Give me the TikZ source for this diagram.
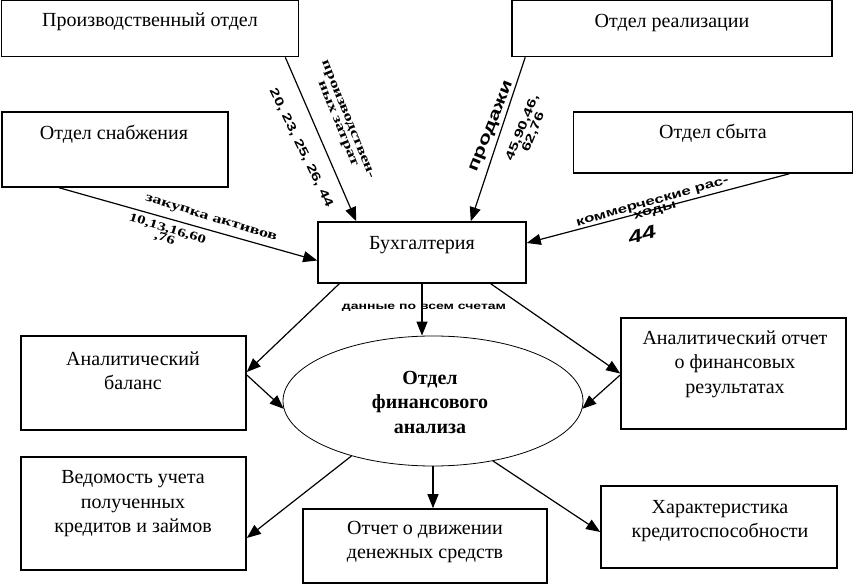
\documentclass[tikz,border=0pt]{standalone}
\usepackage{fontspec}
\setmainfont{Liberation Serif}
\newfontfamily\lblfont[FakeStretch=1.4]{Liberation Sans}
\newfontfamily\lblserif[FakeStretch=1.4]{Liberation Serif}
\usetikzlibrary{arrows.meta,shapes.geometric,calc}

\begin{document}
\begin{tikzpicture}[x=1pt,y=1pt,yscale=-1,xscale=1,
    box/.style={draw,line width=1.6pt,inner sep=0pt},
    txt/.style={inner sep=0.75pt,align=center,font=\fontsize{20}{24.5}\selectfont},
    lbl/.style={inner sep=0.75pt,align=center,font=\lblfont\bfseries\fontsize{12}{12}\selectfont},
    slbl/.style={inner sep=0.75pt,align=center,font=\lblserif\bfseries\fontsize{13}{11}\selectfont},
    arr/.style={line width=1.2pt,-{Triangle[length=14pt,width=11pt]}}]
    \useasboundingbox (0,0) rectangle (855,585);
    %Shape: Rectangle
    \node[box,minimum width=297,minimum height=56] (prod) at (150,28.5) {};
    %Shape: Rectangle
    \node[box,minimum width=226,minimum height=75] (snab) at (115,149.5) {};
    %Shape: Rectangle
    \node[box,minimum width=320,minimum height=56] (real) at (672,28.5) {};
    %Shape: Rectangle
    \node[box,minimum width=279,minimum height=61] (sbyt) at (713,142.5) {};
    %Shape: Rectangle
    \node[box,minimum width=208,minimum height=61] (buh) at (422,252.5) {};
    %Shape: Rectangle
    \node[box,minimum width=225,minimum height=94] (bal) at (133.5,383) {};
    %Shape: Rectangle
    \node[box,minimum width=225,minimum height=113] (ved) at (133.5,513.5) {};
    %Shape: Rectangle
    \node[box,minimum width=244,minimum height=74] (dvizh) at (425,546) {};
    %Shape: Rectangle
    \node[box,minimum width=225,minimum height=111] (anotch) at (733.5,373.5) {};
    %Shape: Rectangle
    \node[box,minimum width=236,minimum height=82] (char) at (719,527) {};
    %Shape: Ellipse
    \node[draw,ellipse,line width=0.8pt,minimum width=300,minimum height=130] (fin) at (433,401) {};

    %Straight Lines
    \draw[arr] ($(prod.south east)+(-14,0)$) -- ($(buh.north west)+(39,0)$);
    %Straight Lines
    \draw[arr] ($(snab.south west)+(58,0)$) -- ($(buh.west)+(0,8)$);
    %Straight Lines
    \draw[arr] ($(real.south west)+(14,0)$) -- ($(buh.north east)+(-56,0)$);
    %Straight Lines
    \draw[arr] ($(sbyt.south east)+(-64,0)$) -- ($(buh.east)+(0,-9.5)$);
    %Straight Lines
    \draw[arr] (buh.south) -- (buh.south |- fin.north);
    %Straight Lines
    \draw[arr] ($(buh.south west)+(22,0)$) -- ($(bal.east)+(0,-11)$);
    %Straight Lines
    \draw[arr] ($(buh.south east)+(-36,0)$) -- (anotch.west);
    %Straight Lines
    \draw[arr] ($(bal.east)+(0,-8)$) -- (fin.183);
    %Straight Lines
    \draw[arr] ($(anotch.west)+(0,1.5)$) -- (fin.-3);
    %Straight Lines
    \draw[arr] (fin.-146) -- ($(ved.east)+(0,24.5)$);
    %Straight Lines
    \draw[arr] (fin.south) -- (fin.south |- dvizh.north);
    %Straight Lines
    \draw[arr] (fin.-45) -- ($(char.west)+(0,5)$);

    % Text Node
    \node[txt] (prodtxt) at (150,22) {Производственный отдел};
    % Text Node
    \node[txt] (snabtxt) at (114,134) {Отдел снабжения};
    % Text Node
    \node[txt] (realtxt) at (672,23) {Отдел реализации};
    % Text Node
    \node[txt] (sbyttxt) at (713,133) {Отдел сбыта};
    % Text Node
    \node[txt] (buhtxt) at (422,245) {Бухгалтерия};
    % Text Node
    \node[txt] (baltxt) at (133,371) {Аналитический\\баланс};
    % Text Node
    \node[txt] (vedtxt) at (133,504) {Ведомость учета\\полученных\\кредитов и займов};
    % Text Node
    \node[txt] (dvizhtxt) at (425,542) {Отчет о движении\\денежных средств};
    % Text Node
    \node[txt] (anotchtxt) at (735,364) {Аналитический отчет\\о финансовых\\результатах};
    % Text Node
    \node[txt] (chartxt) at (720,521) {Характеристика\\кредитоспособности};
    % Text Node
    \node[txt,font=\fontsize{20}{24.5}\selectfont\bfseries] (fintxt) at (430,402) {Отдел\\финансового\\анализа};

    % Text Node
    \node[slbl,rotate=-68] (prodlbl) at (342,122) {производствен-\\ных затрат};
    % Text Node
    \node[lbl,rotate=-64] (prodnum) at (301,148) {20, 23, 25, 26, 44};
    % Text Node
    \node[slbl,rotate=-17] (snablbl) at (211,219) {закупка активов};
    % Text Node
    \node[slbl,rotate=-17,font=\lblserif\bfseries\fontsize{12}{10}\selectfont] (snabnum) at (166,234) {10,13,16,60\\,76};
    % Text Node
    \node[lbl,rotate=68,font=\lblfont\bfseries\fontsize{16}{16}\selectfont] (reallbl) at (492,127) {продажи};
    % Text Node
    \node[lbl,rotate=68] (realnum) at (528,130) {45,90,46,\\62,76};
    % Text Node
    \node[lbl,rotate=15.8,font=\lblfont\bfseries\fontsize{12}{9}\selectfont] (sbytlbl) at (654,207) {коммерческие рас-\\ходы};
    % Text Node
    \node[lbl,rotate=15,font=\lblfont\bfseries\itshape\fontsize{18}{18}\selectfont] (sbytnum) at (642,235) {44};
    % Text Node
    \node[lbl,font=\lblfont\bfseries\fontsize{10}{10}\selectfont] (buhlbl) at (424,308) {данные по всем счетам};
\end{tikzpicture}
\end{document}
